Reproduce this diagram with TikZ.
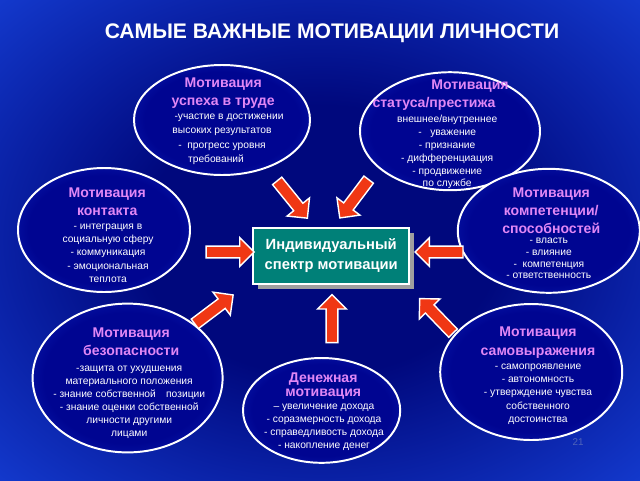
\documentclass[tikz,border=0pt]{standalone}
\usepackage{fontspec}
\setmainfont{Liberation Sans}
\usepackage{xcolor}
\usetikzlibrary{shapes.geometric, shapes.arrows, shadows}

\definecolor{bginner}{RGB}{0,8,125}
\definecolor{bgouter}{RGB}{30,85,250}
\definecolor{ellinner}{RGB}{0,5,145}
\definecolor{ellouter}{RGB}{25,70,235}
\definecolor{titlepink}{RGB}{225,135,245}
\definecolor{arrowred}{RGB}{240,55,20}
\definecolor{boxteal}{RGB}{0,128,120}
\definecolor{pagenum}{RGB}{80,100,185}

\pgfdeclareradialshading{bgshade}{\pgfpoint{0bp}{0bp}}{color(0bp)=(bginner); color(14bp)=(bginner); color(48bp)=(bgouter); color(72bp)=(bgouter)}
\pgfdeclareradialshading{ellshade}{\pgfpoint{0bp}{0bp}}{color(0bp)=(ellinner); color(22bp)=(ellinner); color(50bp)=(ellouter)}

\tikzset{
  motiv/.style={ellipse, draw=white, line width=1.4pt, shade, shading=ellshade, inner sep=0pt},
  mtitle/.style={align=center, text=titlepink, inner sep=0pt, font=\bfseries\fontsize{10}{12.8}\selectfont},
  mlist/.style={align=center, text=white, inner sep=0pt, font=\fontsize{7.3}{9.2}\selectfont},
  bigarrow/.style={single arrow, draw=white, fill=arrowred, line width=1pt, inner xsep=0pt, inner ysep=0.13cm,
    minimum height=1.2cm, minimum width=0.72cm, single arrow head extend=0.21cm},
}

\begin{document}
\begin{tikzpicture}[x=1cm, y=-1cm]
  \useasboundingbox (0,0) rectangle (16,12);
  \shade[shading=bgshade] (0,0) rectangle (16,12);

  \node[text=white, font=\bfseries\fontsize{15}{18}\selectfont] (title) at (8.3,0.83) {САМЫЕ ВАЖНЫЕ МОТИВАЦИИ ЛИЧНОСТИ};

  % ellipses
  \node[motiv, minimum width=4.4cm, minimum height=2.75cm] (uspeh) at (5.55,3.0) {};
  \node[motiv, minimum width=4.5cm, minimum height=2.95cm] (status) at (11.25,3.28) {};
  \node[motiv, minimum width=4.3cm, minimum height=3.1cm] (kontakt) at (2.6,5.75) {};
  \node[motiv, minimum width=4.55cm, minimum height=3.1cm] (kompet) at (13.72,5.77) {};
  \node[motiv, minimum width=4.75cm, minimum height=3.72cm] (bezop) at (3.19,9.45) {};
  \node[motiv, minimum width=3.93cm, minimum height=2.62cm] (dengi) at (8.04,10.26) {};
  \node[motiv, minimum width=4.55cm, minimum height=3.4cm] (samovyr) at (13.28,9.3) {};

  \node[mtitle] (uspeh-t) at (5.58,2.34) {Мотивация\\успеха в труде};
  \node[mlist, font=\fontsize{7.3}{10.2}\selectfont] (uspeh-l) at (5.55,3.48) {\hspace*{0.35cm}-участие в достижении\\высоких результатов\\-\ \ прогресс уровня\\требований\hspace*{0.3cm}};

  \node[mtitle] (status-t) at (10.85,2.38) {\hspace*{1.8cm}Мотивация\\статуса/престижа};
  \node[mlist] (status-l) at (11.18,3.8) {внешнее/внутреннее\\-\ \ \ уважение\\- признание\\- дифференциация\\- продвижение\\по службе};

  \node[mtitle] (kontakt-t) at (2.68,5.05) {Мотивация\\контакта};
  \node[mlist, font=\fontsize{7.3}{9.5}\selectfont] (kontakt-l) at (2.7,6.33) {- интеграция в\\социальную сферу\\- коммуникация\\- эмоциональная\\теплота};

  \node[mtitle] (kompet-t) at (13.78,5.28) {Мотивация\\компетенции/\\способностей};
  \node[mlist, font=\fontsize{7.3}{8.4}\selectfont] (kompet-l) at (13.72,6.46) {- власть\\- влияние\\-\ \ компетенция\\- ответственность};

  \node[mtitle] (bezop-t) at (3.28,8.54) {Мотивация\\безопасности};
  \node[mlist] (bezop-l) at (3.23,10.05) {-защита от ухудшения\\материального положения\\- знание собственной\quad позиции\\- знание оценки собственной\\личности другими\\лицами};

  \node[mtitle, font=\bfseries\fontsize{10}{10.2}\selectfont] (dengi-t) at (8.08,9.65) {Денежная\\мотивация};
  \node[mlist] (dengi-l) at (8.1,10.69) {– увеличение дохода\\- соразмерность дохода\\- справедливость дохода\\- накопление денег};

  \node[mtitle, font=\bfseries\fontsize{10}{13.4}\selectfont] (samovyr-t) at (13.45,8.56) {Мотивация\\самовыражения};
  \node[mlist, font=\fontsize{7.3}{9.5}\selectfont] (samovyr-l) at (13.45,9.85) {- самопроявление\\- автономность\\- утверждение чувства\\собственного\\достоинства};

  % center
  \node[draw=white, line width=1.4pt, fill=boxteal, minimum width=3.9cm, minimum height=1.4cm,
    align=center, text=white, font=\bfseries\fontsize{10.5}{14.2}\selectfont,
    drop shadow={shadow xshift=3.5pt, shadow yshift=-3.5pt, fill=gray!75, opacity=1}]
    (spektr) at (8.28,6.4) {Индивидуальный\\спектр мотивации};

  % arrows
  \node[bigarrow, rotate=-51] (a1) at (7.26,4.93) {};
  \node[bigarrow, rotate=-127] (a2) at (8.9,4.91) {};
  \node[bigarrow, rotate=0] (a3) at (5.68,6.3) {};
  \node[bigarrow, rotate=180] (a4) at (11.05,6.3) {};
  \node[bigarrow, rotate=37] (a5) at (5.29,7.78) {};
  \node[bigarrow, rotate=90] (a6) at (8.3,8.04) {};
  \node[bigarrow, rotate=134] (a7) at (10.96,7.95) {};

  \node[text=pagenum, font=\fontsize{7}{8}\selectfont] (page) at (14.45,11.05) {21};
\end{tikzpicture}
\end{document}
